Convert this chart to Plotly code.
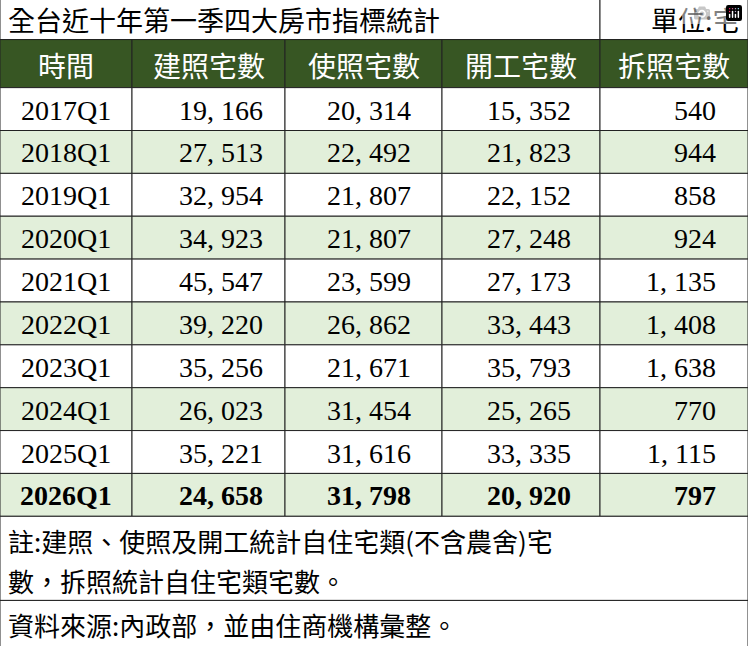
import plotly.graph_objects as go

title = "全台近十年第一季四大房市指標統計"
unit = "單位:宅"
headers = ["時間", "建照宅數", "使照宅數", "開工宅數", "拆照宅數"]
periods = ["2017Q1", "2018Q1", "2019Q1", "2020Q1", "2021Q1", "2022Q1",
           "2023Q1", "2024Q1", "2025Q1", "2026Q1"]
build_permits = [19166, 27513, 32954, 34923, 45547, 39220, 35256, 26023, 35221, 24658]
use_permits = [20314, 22492, 21807, 21807, 23599, 26862, 21671, 31454, 31616, 31798]
starts = [15352, 21823, 22152, 27248, 27173, 33443, 35793, 25265, 33335, 20920]
demolitions = [540, 944, 858, 924, 1135, 1408, 1638, 770, 1115, 797]
note_lines = ["註:建照、使照及開工統計自住宅類(不含農舍)宅", "數，拆照統計自住宅類宅數。"]
source = "資料來源:內政部，並由住商機構彙整。"

W, H = 748, 646
col_x = [0, 132, 285, 442, 600, 748]
num_pad = [None, 20, 29, 27, 30]
head_top, head_bot = 40, 88
row_h = (516 - head_bot) / len(periods)
CJK = "Noto Sans CJK TC"
NUM = "Liberation Serif"
DARK = "#375623"
LIGHT = "#E2EFDA"

shapes, ann = [], []


def rect(x0, y0, x1, y1, fill):
    shapes.append(dict(type="rect", x0=x0, y0=y0, x1=x1, y1=y1, fillcolor=fill,
                       line=dict(color="#222", width=1), layer="below"))


def text(x, y, s, size, color="black", anchor="center", font=CJK, bold=False):
    if bold:
        s = "<b>" + s + "</b>"
    ann.append(dict(x=x, y=y, text=s, showarrow=False, xanchor=anchor, yanchor="middle",
                    font=dict(family=font, size=size, color=color)))


def fmt(v):
    return f"{v:,}".replace(",", ", ")


# title row
rect(0, 0, 600, head_top, "white")
rect(600, 0, W, head_top, "white")
text(6, 20, title, 27, anchor="left")
text(742, 20, unit, 27, anchor="right")

# header
for i, h in enumerate(headers):
    rect(col_x[i], head_top, col_x[i + 1], head_bot, DARK)
    text((col_x[i] + col_x[i + 1]) / 2, (head_top + head_bot) / 2 + 1, h, 28, color="white")

# data rows
for r, p in enumerate(periods):
    y0 = head_bot + r * row_h
    y1 = y0 + row_h
    fill = LIGHT if r % 2 == 1 else "white"
    bold = r == len(periods) - 1
    vals = [build_permits[r], use_permits[r], starts[r], demolitions[r]]
    for c in range(5):
        rect(col_x[c], y0, col_x[c + 1], y1, fill)
    ym = (y0 + y1) / 2 + 1
    text((col_x[0] + col_x[1]) / 2, ym, p, 28, font=NUM, bold=bold)
    for c, v in enumerate(vals, start=1):
        text(col_x[c + 1] - num_pad[c], ym, fmt(v), 28, anchor="right", font=NUM, bold=bold)

# notes
rect(0, 516, W, 600, "white")
text(6, 540, note_lines[0], 26, anchor="left")
text(6, 580, note_lines[1], 26, anchor="left")
rect(0, 600, W, H, "white")
text(6, 624, source, 26, anchor="left")

fig = go.Figure()
fig.update_layout(width=W, height=H, margin=dict(l=0, r=0, t=0, b=0),
                  paper_bgcolor="white", plot_bgcolor="white",
                  shapes=shapes, annotations=ann, showlegend=False)
fig.update_xaxes(range=[0, W], visible=False, fixedrange=True)
fig.update_yaxes(range=[H - 0.5, 0.5], visible=False, fixedrange=True)
fig.write_html("out.html")

# drop the browser's default body margin so the figure fills the window
with open("out.html", encoding="utf-8") as f:
    page = f.read()
page = page.replace("<body>", '<body style="margin:0;overflow:hidden">', 1)
with open("out.html", "w", encoding="utf-8") as f:
    f.write(page)
